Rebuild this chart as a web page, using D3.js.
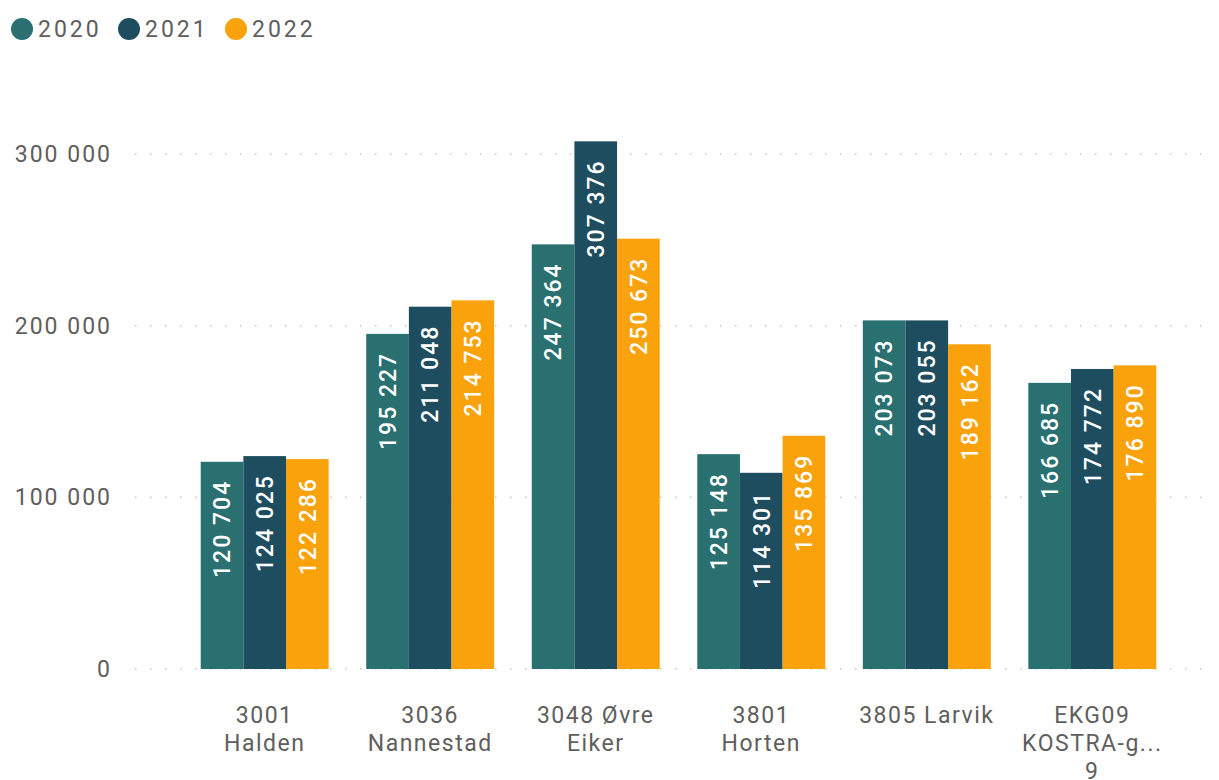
<!DOCTYPE html>
<html lang="en">
<head>
	<meta charset="utf-8">
	<script src="https://d3js.org/d3.v7.min.js"></script>
	<style>
		body { margin: 0; background: #fff; }
		text { font-family: Roboto, "DejaVu Sans Condensed", sans-serif; }
	</style>
</head>
<body>
	<script type="text/javascript">

		var svgWidth = 1219;
		var svgHeight = 780;

		// data
		var years = ["2020", "2021", "2022"];
		var categories = [
			["3001", "Halden"],
			["3036", "Nannestad"],
			["3048 Øvre", "Eiker"],
			["3801", "Horten"],
			["3805 Larvik"],
			["EKG09", "KOSTRA-g...", "9"]
		];
		var values2020 = [120704, 195227, 247364, 125148, 203073, 166685];
		var values2021 = [124025, 211048, 307376, 114301, 203055, 174772];
		var values2022 = [122286, 214753, 250673, 135869, 189162, 176890];
		var yTicks = [0, 100000, 200000, 300000];
		var colors = ["#2A7070", "#1E4D5F", "#F9A20B"];

		var seriesValues = [values2020, values2021, values2022];

		var svg = d3.select("body")
			.append("svg")
			.attr("width", svgWidth)
			.attr("height", svgHeight);

		// scales
		var xScale = d3.scaleBand()
			.domain(d3.range(categories.length))
			.range([182, 1175])
			.paddingInner(0.227)
			.paddingOuter(0.113);

		var xInner = d3.scaleBand()
			.domain(years)
			.range([0, xScale.bandwidth()]);

		var yScale = d3.scaleLinear()
			.domain([0, 300000])
			.range([669, 154]);

		var fmt = function(v) { return d3.format(",")(v).replace(/,/g, " "); };

		// gridlines + y labels
		var yAxis = d3.axisLeft(yScale)
			.tickValues(yTicks)
			.tickSize(0)
			.tickPadding(0)
			.tickFormat(fmt);

		var gy = svg.append("g")
			.attr("transform", "translate(112,0)")
			.call(yAxis);
		gy.select(".domain").remove();
		gy.selectAll("text")
			.attr("fill", "#605E5C")
			.style("font-size", "23px")
			.style("letter-spacing", "2px");

		svg.append("g").selectAll("line")
			.data(yTicks)
			.enter()
			.append("line")
				.attr("x1", 135)
				.attr("x2", 1210)
				.attr("y1", function(d) { return yScale(d); })
				.attr("y2", function(d) { return yScale(d); })
				.attr("stroke", "#C8C6C4")
				.attr("stroke-width", 1.5)
				.attr("stroke-dasharray", "1.5,13.5");

		// bars
		var groups = svg.append("g").selectAll("g")
			.data(categories)
			.enter()
			.append("g")
				.attr("transform", function(d, i) { return "translate(" + xScale(i) + ",0)"; });

		groups.selectAll("rect")
			.data(function(d, i) { return years.map(function(y, j) { return {year: y, value: seriesValues[j][i], j: j}; }); })
			.enter()
			.append("rect")
				.attr("x", function(d) { return xInner(d.year); })
				.attr("width", xInner.bandwidth())
				.attr("y", function(d) { return yScale(d.value); })
				.attr("height", function(d) { return yScale(0) - yScale(d.value); })
				.attr("fill", function(d) { return colors[d.j]; });

		// value labels, rotated, inside end
		groups.selectAll("text.val")
			.data(function(d, i) { return years.map(function(y, j) { return {year: y, value: seriesValues[j][i]}; }); })
			.enter()
			.append("text")
				.attr("class", "val")
				.attr("transform", function(d) {
					return "translate(" + (xInner(d.year) + xInner.bandwidth() / 2) + "," + (yScale(d.value) + 18) + ") rotate(-90)";
				})
				.attr("text-anchor", "end")
				.attr("dy", "0.36em")
				.attr("fill", "#fff")
				.style("font-size", "23px")
				.style("font-weight", "500")
				.style("letter-spacing", "2px")
				.text(function(d) { return fmt(d.value); });

		// category labels (last line is cut at the bottom, as in the original)
		groups.append("text")
			.attr("x", xScale.bandwidth() / 2)
			.attr("y", 723)
			.attr("text-anchor", "middle")
			.attr("fill", "#605E5C")
			.style("font-size", "23px")
			.style("letter-spacing", "1.5px")
			.selectAll("tspan")
			.data(function(d) { return d; })
			.enter()
			.append("tspan")
				.attr("x", xScale.bandwidth() / 2)
				.attr("dy", function(d, i) { return i === 0 ? 0 : 28; })
				.text(function(d) { return d; });

		// legend
		var legendX = [22, 129, 236];
		var legend = svg.append("g").selectAll("g")
			.data(years)
			.enter()
			.append("g")
				.attr("transform", function(d, i) { return "translate(" + legendX[i] + ",29)"; });
		legend.append("circle")
			.attr("r", 11)
			.attr("fill", function(d, i) { return colors[i]; });
		legend.append("text")
			.attr("x", 16)
			.attr("dy", "0.36em")
			.attr("fill", "#605E5C")
			.style("font-size", "23px")
			.style("letter-spacing", "3px")
			.text(function(d) { return d; });

	</script>
</body>
</html>
